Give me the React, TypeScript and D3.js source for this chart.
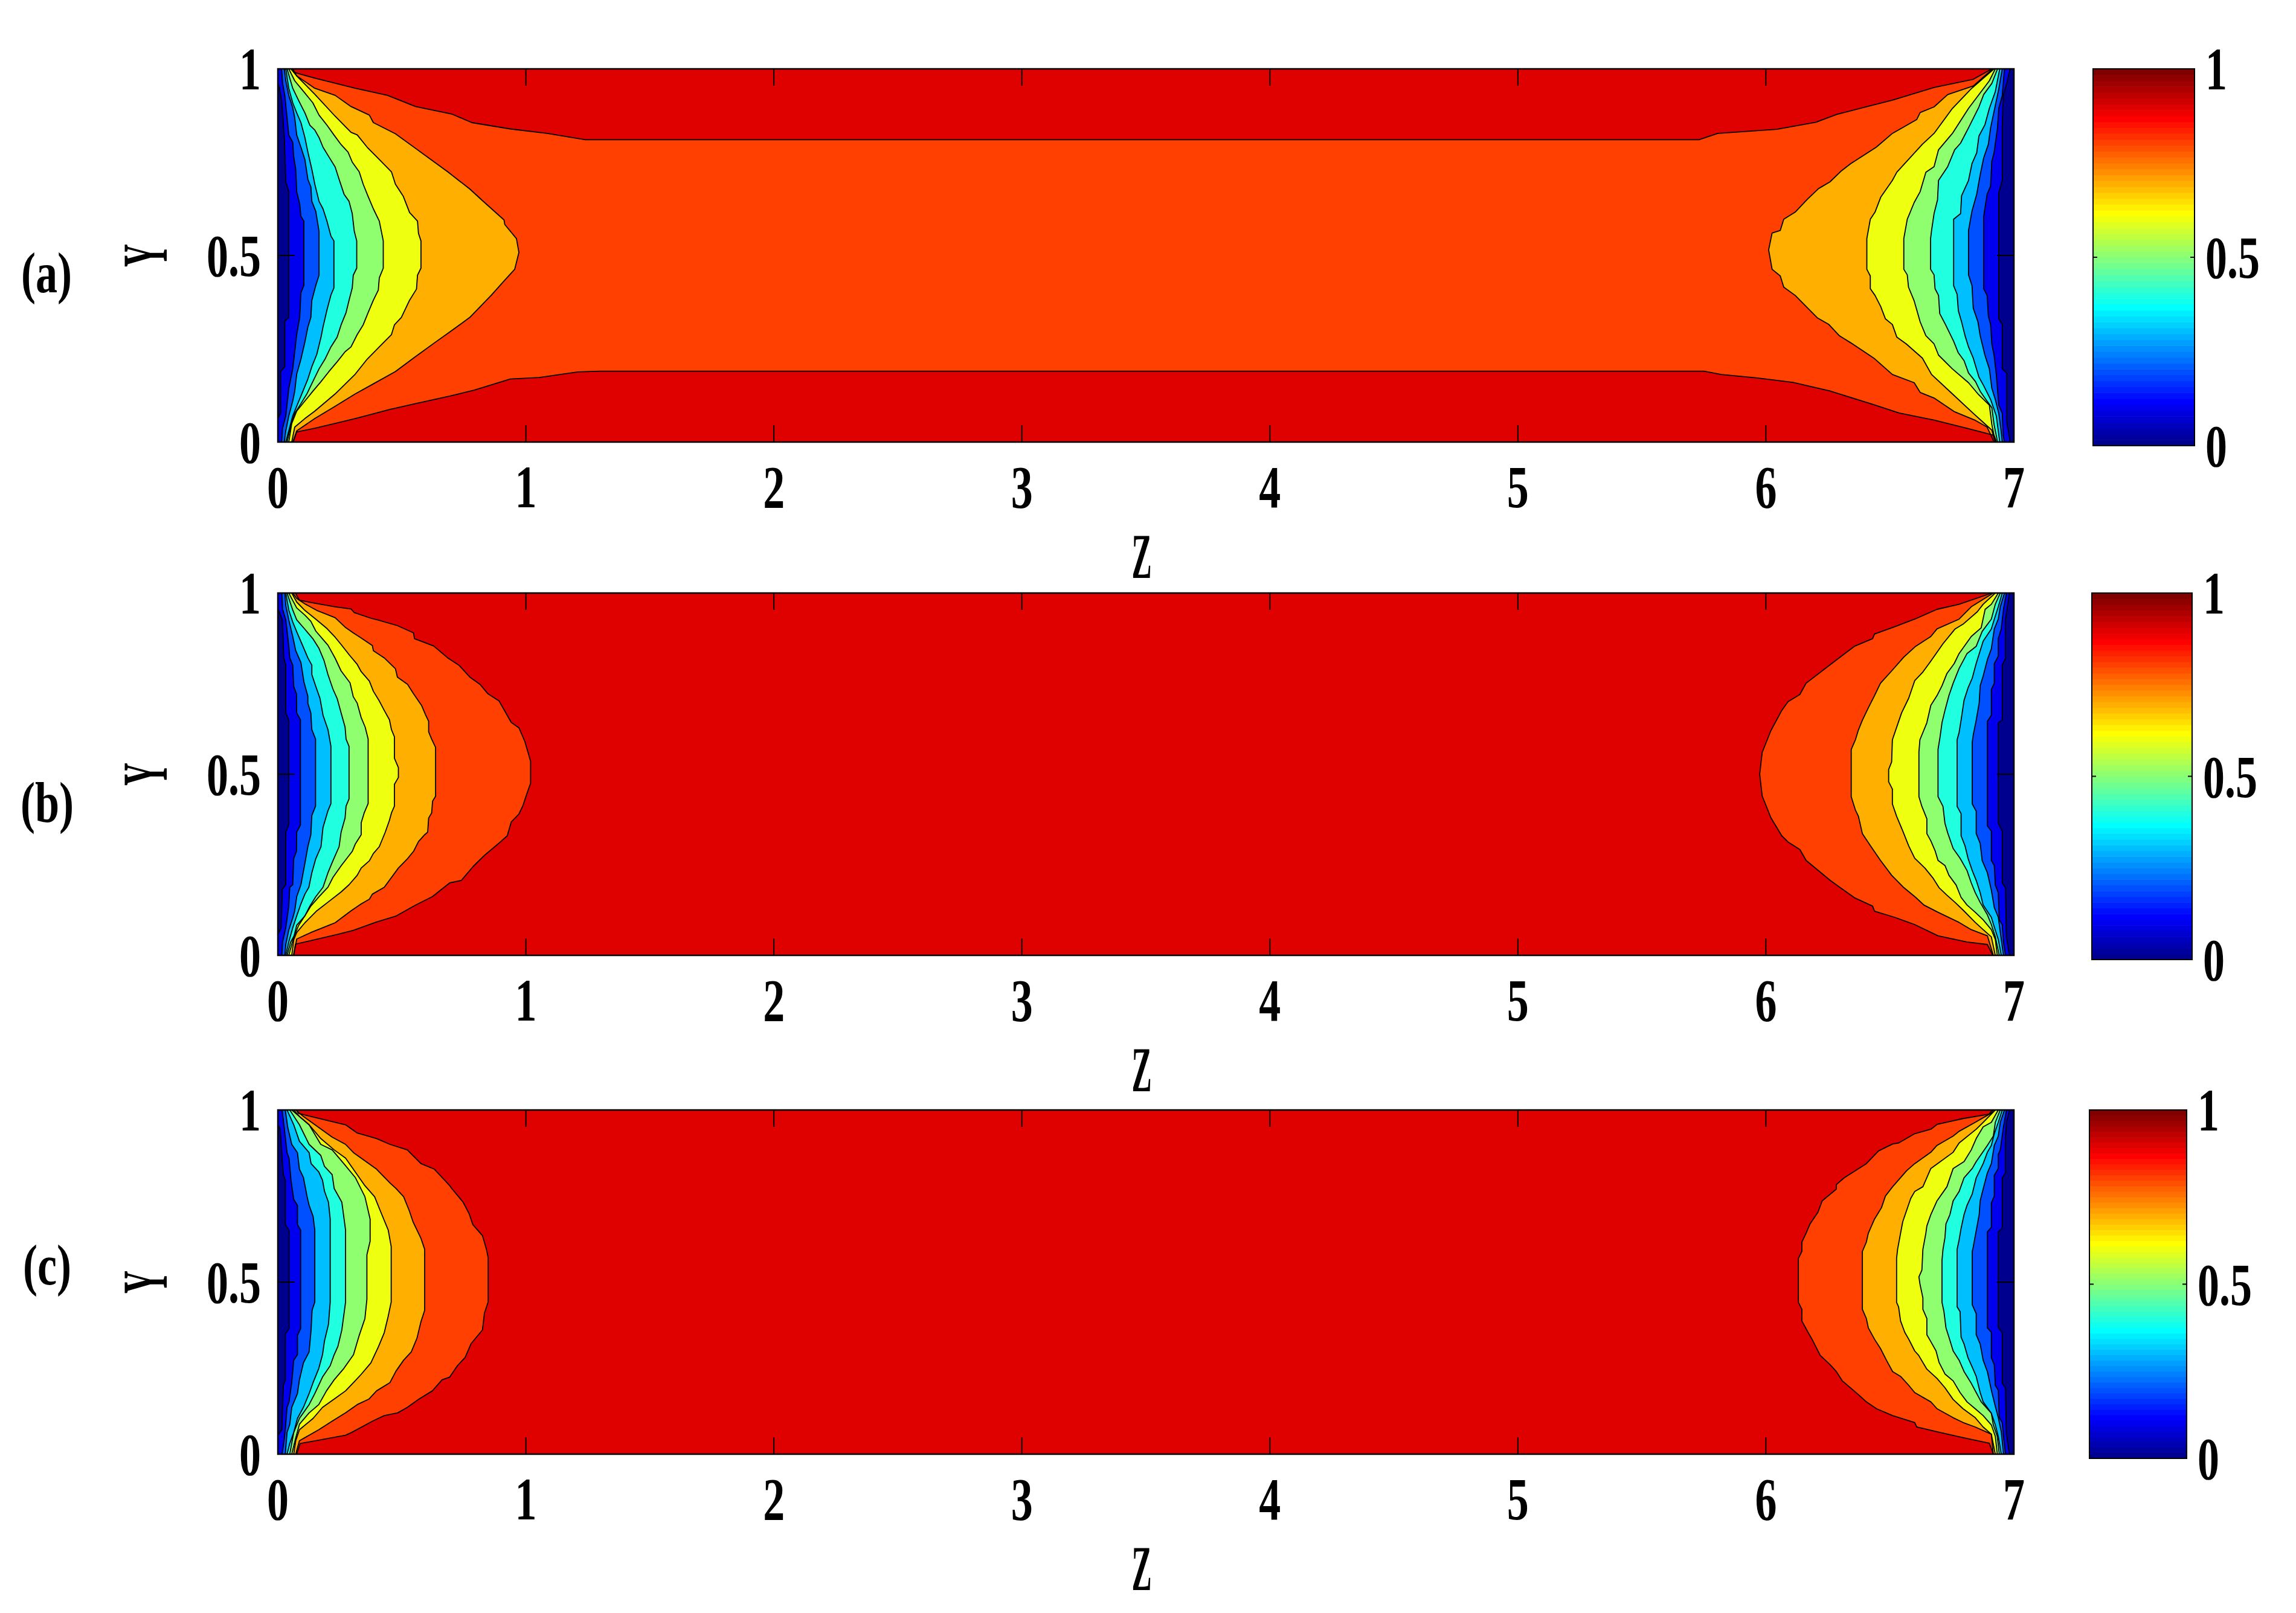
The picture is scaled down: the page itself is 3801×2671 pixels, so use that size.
import React from 'react';
import * as d3 from 'd3';

// ---------------- data ----------------
// contour levels of the filled contour plot
const LEVELS = [0, 0.1, 0.2, 0.3, 0.4, 0.5, 0.6, 0.7, 0.8, 0.9];
const X_TICKS = [0, 1, 2, 3, 4, 5, 6, 7];
const Y_TICKS = [0, 0.5, 1];
const CB_TICKS = [0, 0.5, 1];
const PANEL_LABELS = ['(a)', '(b)', '(c)'];
const X_LABEL = 'Z';
const Y_LABEL = 'Y';

type P = [number, number];

// Panel (a): contour lines [Z, Y], left wall side (levels 0.1 .. 0.8), listed top -> bottom
const aLeft: P[][] = [
  [[0,0.96],[0.007,0.948],[0.015,0.915],[0.019,0.882],[0.026,0.816],[0.032,0.697],[0.044,0.671],[0.044,0.334],[0.028,0.324],[0.028,0.202],[0.011,0.189],[0.011,0.077],[0,0.063]],
  [[0.015,1],[0.019,0.962],[0.028,0.929],[0.044,0.823],[0.06,0.803],[0.064,0.764],[0.072,0.731],[0.076,0.671],[0.088,0.638],[0.093,0.605],[0.105,0.592],[0.105,0.42],[0.093,0.4],[0.088,0.334],[0.076,0.288],[0.068,0.242],[0.06,0.196],[0.044,0.143],[0.032,0.07],[0.019,0.037],[0.015,0]],
  [[0.026,1],[0.032,0.968],[0.044,0.929],[0.06,0.896],[0.068,0.869],[0.076,0.823],[0.093,0.79],[0.109,0.757],[0.121,0.704],[0.133,0.684],[0.137,0.645],[0.153,0.618],[0.166,0.565],[0.166,0.447],[0.153,0.42],[0.137,0.38],[0.133,0.334],[0.121,0.308],[0.109,0.268],[0.093,0.222],[0.076,0.182],[0.068,0.136],[0.06,0.11],[0.044,0.07],[0.032,0.03],[0.026,0]],
  [[0.032,1],[0.044,0.948],[0.06,0.909],[0.076,0.882],[0.093,0.856],[0.109,0.816],[0.121,0.777],[0.137,0.731],[0.149,0.691],[0.166,0.645],[0.182,0.625],[0.198,0.592],[0.214,0.552],[0.226,0.539],[0.226,0.413],[0.214,0.394],[0.198,0.354],[0.182,0.308],[0.174,0.281],[0.157,0.235],[0.137,0.202],[0.121,0.169],[0.101,0.136],[0.076,0.096],[0.06,0.07],[0.044,0.03],[0.032,0]],
  [[0.037,1],[0.06,0.948],[0.084,0.915],[0.109,0.882],[0.129,0.849],[0.149,0.836],[0.166,0.816],[0.182,0.79],[0.206,0.764],[0.231,0.737],[0.247,0.704],[0.267,0.664],[0.287,0.645],[0.3,0.612],[0.308,0.565],[0.318,0.539],[0.318,0.466],[0.304,0.447],[0.3,0.413],[0.287,0.38],[0.275,0.347],[0.255,0.314],[0.239,0.281],[0.214,0.255],[0.19,0.222],[0.166,0.196],[0.141,0.162],[0.117,0.129],[0.093,0.103],[0.068,0.077],[0.052,0.044],[0.037,0]],
  [[0.044,1],[0.068,0.968],[0.109,0.935],[0.141,0.909],[0.166,0.876],[0.198,0.849],[0.226,0.823],[0.255,0.797],[0.283,0.777],[0.3,0.75],[0.328,0.724],[0.344,0.691],[0.364,0.658],[0.385,0.625],[0.409,0.592],[0.425,0.539],[0.425,0.466],[0.409,0.44],[0.405,0.407],[0.385,0.38],[0.364,0.347],[0.344,0.314],[0.32,0.288],[0.295,0.255],[0.271,0.242],[0.239,0.215],[0.206,0.189],[0.174,0.162],[0.141,0.136],[0.109,0.11],[0.076,0.083],[0.056,0.05],[0.044,0]],
  [[0.052,1],[0.076,0.981],[0.149,0.932],[0.231,0.873],[0.295,0.83],[0.32,0.823],[0.36,0.79],[0.409,0.757],[0.458,0.724],[0.474,0.691],[0.506,0.658],[0.531,0.615],[0.563,0.592],[0.567,0.559],[0.577,0.539],[0.577,0.466],[0.563,0.447],[0.559,0.41],[0.531,0.38],[0.498,0.334],[0.47,0.314],[0.458,0.288],[0.409,0.255],[0.36,0.222],[0.312,0.182],[0.231,0.129],[0.149,0.083],[0.109,0.063],[0.068,0.04],[0.056,0]],
  [[0.06,1],[0.076,0.981],[0.149,0.948],[0.231,0.929],[0.295,0.899],[0.369,0.876],[0.385,0.856],[0.474,0.826],[0.555,0.787],[0.685,0.724],[0.774,0.678],[0.823,0.648],[0.912,0.595],[0.915,0.583],[0.962,0.545],[0.972,0.508],[0.955,0.463],[0.915,0.434],[0.86,0.393],[0.774,0.334],[0.693,0.295],[0.636,0.268],[0.555,0.229],[0.474,0.189],[0.385,0.156],[0.312,0.129],[0.231,0.096],[0.149,0.063],[0.076,0.03],[0.06,0]],
];
// Panel (a): right wall side (levels 0.1 .. 0.8), top -> bottom
const aRight: P[][] = [
  [[6.985,1],[6.971,0.961],[6.957,0.928],[6.953,0.842],[6.953,0.701],[6.939,0.668],[6.939,0.33],[6.953,0.315],[6.953,0.196],[6.971,0.185],[6.971,0.055],[6.985,0]],
  [[6.962,1],[6.953,0.928],[6.939,0.894],[6.934,0.842],[6.92,0.775],[6.911,0.753],[6.906,0.686],[6.892,0.664],[6.878,0.604],[6.878,0.411],[6.892,0.393],[6.897,0.337],[6.906,0.315],[6.911,0.263],[6.92,0.233],[6.929,0.181],[6.939,0.099],[6.953,0.077],[6.957,0.018],[6.962,0]],
  [[6.953,1],[6.939,0.946],[6.925,0.902],[6.906,0.842],[6.897,0.798],[6.878,0.761],[6.864,0.716],[6.85,0.664],[6.831,0.619],[6.817,0.567],[6.817,0.448],[6.831,0.419],[6.836,0.359],[6.855,0.322],[6.864,0.285],[6.883,0.233],[6.901,0.196],[6.911,0.144],[6.925,0.114],[6.939,0.077],[6.948,0.032],[6.953,0]],
  [[6.943,1],[6.925,0.939],[6.901,0.894],[6.883,0.85],[6.859,0.82],[6.85,0.775],[6.831,0.746],[6.817,0.701],[6.789,0.66],[6.785,0.612],[6.757,0.597],[6.757,0.419],[6.771,0.396],[6.776,0.352],[6.789,0.322],[6.803,0.285],[6.817,0.255],[6.836,0.225],[6.859,0.174],[6.878,0.151],[6.906,0.114],[6.929,0.07],[6.943,0]],
  [[6.934,1],[6.911,0.961],[6.878,0.931],[6.859,0.898],[6.817,0.842],[6.785,0.801],[6.761,0.783],[6.733,0.738],[6.696,0.701],[6.692,0.649],[6.678,0.612],[6.668,0.567],[6.664,0.545],[6.664,0.463],[6.678,0.448],[6.682,0.411],[6.696,0.393],[6.701,0.344],[6.724,0.315],[6.757,0.27],[6.775,0.24],[6.799,0.218],[6.817,0.185],[6.845,0.162],[6.864,0.136],[6.887,0.114],[6.911,0.092],[6.92,0.047],[6.934,0]],
  [[6.925,1],[6.901,0.968],[6.817,0.894],[6.752,0.827],[6.696,0.783],[6.678,0.738],[6.645,0.723],[6.622,0.671],[6.598,0.642],[6.57,0.597],[6.556,0.545],[6.556,0.463],[6.57,0.448],[6.575,0.415],[6.598,0.378],[6.622,0.322],[6.645,0.285],[6.678,0.263],[6.696,0.233],[6.752,0.196],[6.817,0.159],[6.855,0.129],[6.901,0.099],[6.911,0.047],[6.925,0]],
  [[6.92,1],[6.827,0.946],[6.752,0.894],[6.678,0.827],[6.631,0.798],[6.528,0.723],[6.51,0.701],[6.463,0.656],[6.44,0.616],[6.421,0.597],[6.407,0.545],[6.407,0.463],[6.421,0.445],[6.421,0.411],[6.44,0.393],[6.463,0.363],[6.482,0.33],[6.51,0.315],[6.528,0.281],[6.566,0.263],[6.631,0.225],[6.668,0.181],[6.752,0.129],[6.836,0.077],[6.911,0.032],[6.925,0]],
  [[6.915,1],[6.836,0.954],[6.733,0.931],[6.678,0.898],[6.622,0.883],[6.608,0.864],[6.51,0.827],[6.445,0.79],[6.342,0.746],[6.305,0.727],[6.258,0.697],[6.212,0.679],[6.165,0.649],[6.118,0.616],[6.072,0.597],[6.058,0.567],[6.025,0.56],[6.011,0.515],[6.025,0.463],[6.058,0.445],[6.072,0.415],[6.118,0.393],[6.207,0.333],[6.254,0.315],[6.296,0.285],[6.342,0.266],[6.435,0.225],[6.51,0.181],[6.598,0.159],[6.622,0.133],[6.678,0.118],[6.761,0.081],[6.845,0.058],[6.892,0.04],[6.92,0]],
];
// Panel (a): level 0.9 contour, upper and lower branches (left -> right)
const aTop90: P[] = [[0.06,1],[0.064,0.991],[0.149,0.975],[0.312,0.948],[0.442,0.929],[0.555,0.899],[0.701,0.879],[0.782,0.856],[0.937,0.839],[1.086,0.827],[1.24,0.81],[5.73,0.81],[5.806,0.827],[6.044,0.838],[6.202,0.857],[6.286,0.878],[6.421,0.901],[6.51,0.916],[6.678,0.95],[6.836,0.972],[6.912,1]];
const aBottom90: P[] = [[0.06,0],[0.064,0.004],[0.076,0.027],[0.149,0.037],[0.231,0.05],[0.312,0.063],[0.393,0.077],[0.45,0.087],[0.555,0.103],[0.693,0.123],[0.791,0.139],[0.937,0.169],[1.054,0.173],[1.21,0.188],[1.3,0.19],[5.75,0.19],[5.82,0.181],[5.96,0.172],[6.108,0.16],[6.258,0.137],[6.435,0.1],[6.537,0.078],[6.678,0.059],[6.817,0.036],[6.92,0.018],[6.93,0]];

// Panel (b): left side (levels 0.1 .. 0.9), top -> bottom
const bLeft: P[][] = [
  [[0,0.956],[0.007,0.946],[0.018,0.926],[0.024,0.821],[0.032,0.801],[0.032,0.669],[0.044,0.65],[0.044,0.36],[0.032,0.34],[0.032,0.195],[0.018,0.182],[0.013,0.076],[0,0.057]],
  [[0.016,1],[0.019,0.956],[0.032,0.926],[0.044,0.854],[0.048,0.821],[0.06,0.801],[0.064,0.742],[0.075,0.722],[0.076,0.669],[0.091,0.65],[0.091,0.36],[0.076,0.34],[0.075,0.287],[0.064,0.267],[0.06,0.195],[0.048,0.188],[0.044,0.136],[0.032,0.076],[0.019,0.037],[0.016,0]],
  [[0.028,1],[0.032,0.966],[0.044,0.926],[0.06,0.88],[0.072,0.841],[0.093,0.808],[0.105,0.755],[0.121,0.715],[0.121,0.696],[0.133,0.669],[0.137,0.623],[0.152,0.597],[0.152,0.412],[0.137,0.386],[0.133,0.333],[0.121,0.3],[0.109,0.254],[0.093,0.195],[0.076,0.162],[0.068,0.123],[0.06,0.103],[0.044,0.07],[0.032,0.03],[0.028,0]],
  [[0.032,1],[0.044,0.953],[0.06,0.92],[0.076,0.893],[0.105,0.847],[0.121,0.821],[0.137,0.801],[0.137,0.775],[0.153,0.742],[0.17,0.709],[0.182,0.663],[0.202,0.623],[0.214,0.577],[0.214,0.419],[0.202,0.399],[0.182,0.353],[0.174,0.3],[0.153,0.267],[0.137,0.228],[0.125,0.188],[0.109,0.169],[0.093,0.142],[0.076,0.109],[0.06,0.076],[0.044,0.037],[0.032,0]],
  [[0.037,1],[0.06,0.953],[0.076,0.926],[0.109,0.9],[0.141,0.874],[0.166,0.847],[0.186,0.814],[0.202,0.775],[0.222,0.735],[0.239,0.709],[0.255,0.669],[0.271,0.63],[0.275,0.597],[0.287,0.577],[0.287,0.432],[0.275,0.412],[0.271,0.379],[0.255,0.34],[0.247,0.3],[0.222,0.261],[0.202,0.228],[0.182,0.188],[0.153,0.162],[0.129,0.136],[0.109,0.109],[0.084,0.083],[0.068,0.057],[0.052,0.037],[0.037,0]],
  [[0.044,1],[0.076,0.959],[0.109,0.939],[0.133,0.922],[0.153,0.895],[0.182,0.872],[0.202,0.856],[0.231,0.82],[0.255,0.785],[0.291,0.752],[0.304,0.714],[0.32,0.696],[0.336,0.656],[0.352,0.63],[0.364,0.597],[0.364,0.419],[0.348,0.393],[0.336,0.366],[0.336,0.333],[0.312,0.307],[0.3,0.287],[0.255,0.247],[0.222,0.215],[0.202,0.188],[0.166,0.162],[0.133,0.136],[0.109,0.109],[0.076,0.083],[0.064,0.05],[0.044,0]],
  [[0.056,1],[0.076,0.975],[0.109,0.952],[0.149,0.93],[0.198,0.902],[0.231,0.878],[0.255,0.858],[0.287,0.83],[0.32,0.803],[0.336,0.783],[0.369,0.757],[0.385,0.729],[0.409,0.702],[0.429,0.676],[0.45,0.65],[0.458,0.623],[0.47,0.603],[0.47,0.544],[0.486,0.518],[0.486,0.491],[0.47,0.472],[0.47,0.412],[0.458,0.393],[0.45,0.373],[0.433,0.34],[0.409,0.3],[0.385,0.281],[0.369,0.261],[0.336,0.241],[0.32,0.221],[0.287,0.195],[0.255,0.175],[0.206,0.149],[0.157,0.123],[0.109,0.09],[0.076,0.063],[0.064,0.043],[0.056,0]],
  [[0.06,1],[0.076,0.985],[0.109,0.97],[0.157,0.952],[0.231,0.932],[0.271,0.906],[0.304,0.89],[0.336,0.876],[0.381,0.855],[0.385,0.841],[0.429,0.821],[0.474,0.791],[0.482,0.768],[0.523,0.748],[0.547,0.722],[0.58,0.689],[0.596,0.663],[0.608,0.646],[0.608,0.617],[0.62,0.597],[0.636,0.574],[0.636,0.439],[0.624,0.426],[0.62,0.393],[0.608,0.379],[0.604,0.34],[0.592,0.333],[0.567,0.314],[0.547,0.287],[0.523,0.267],[0.486,0.241],[0.429,0.188],[0.381,0.169],[0.369,0.155],[0.336,0.142],[0.295,0.123],[0.231,0.09],[0.206,0.083],[0.133,0.063],[0.076,0.045],[0.064,0]],
  [[0.071,1],[0.087,0.98],[0.149,0.972],[0.231,0.962],[0.295,0.956],[0.308,0.946],[0.377,0.93],[0.401,0.926],[0.482,0.91],[0.547,0.89],[0.551,0.874],[0.628,0.854],[0.685,0.821],[0.73,0.801],[0.774,0.768],[0.815,0.748],[0.847,0.722],[0.892,0.702],[0.941,0.643],[0.972,0.628],[0.996,0.59],[1.019,0.536],[1.019,0.475],[1.003,0.444],[0.988,0.413],[0.972,0.39],[0.941,0.368],[0.925,0.33],[0.887,0.307],[0.833,0.276],[0.787,0.245],[0.74,0.207],[0.693,0.2],[0.623,0.162],[0.553,0.138],[0.475,0.108],[0.397,0.092],[0.304,0.069],[0.242,0.058],[0.071,0.031],[0.063,0]],
];
const bRight: P[][] = [
  [[6.982,1],[6.974,0.962],[6.966,0.928],[6.966,0.819],[6.953,0.802],[6.953,0.649],[6.937,0.642],[6.937,0.364],[6.953,0.343],[6.953,0.2],[6.966,0.187],[6.97,0.051],[6.982,0]],
  [[6.97,1],[6.958,0.955],[6.949,0.901],[6.937,0.874],[6.937,0.826],[6.921,0.805],[6.921,0.751],[6.909,0.734],[6.909,0.663],[6.893,0.646],[6.893,0.357],[6.909,0.343],[6.909,0.262],[6.921,0.248],[6.925,0.194],[6.937,0.173],[6.941,0.098],[6.953,0.085],[6.958,0.037],[6.966,0]],
  [[6.962,1],[6.945,0.962],[6.937,0.928],[6.921,0.901],[6.909,0.846],[6.893,0.816],[6.876,0.771],[6.864,0.744],[6.86,0.697],[6.848,0.649],[6.836,0.608],[6.832,0.588],[6.832,0.418],[6.848,0.398],[6.848,0.336],[6.864,0.309],[6.872,0.262],[6.893,0.228],[6.909,0.18],[6.921,0.132],[6.937,0.105],[6.945,0.064],[6.958,0]],
  [[6.953,1],[6.937,0.962],[6.921,0.928],[6.909,0.901],[6.876,0.867],[6.848,0.806],[6.832,0.765],[6.815,0.738],[6.799,0.704],[6.787,0.649],[6.779,0.615],[6.771,0.595],[6.771,0.411],[6.787,0.391],[6.787,0.33],[6.803,0.302],[6.815,0.268],[6.832,0.234],[6.848,0.207],[6.864,0.173],[6.876,0.139],[6.909,0.105],[6.921,0.078],[6.937,0.044],[6.949,0]],
  [[6.945,1],[6.925,0.969],[6.909,0.928],[6.872,0.894],[6.848,0.853],[6.811,0.833],[6.779,0.792],[6.755,0.751],[6.738,0.717],[6.722,0.676],[6.71,0.642],[6.702,0.602],[6.694,0.568],[6.694,0.438],[6.714,0.411],[6.722,0.364],[6.734,0.336],[6.755,0.295],[6.783,0.268],[6.811,0.234],[6.828,0.2],[6.844,0.173],[6.864,0.146],[6.893,0.112],[6.909,0.085],[6.925,0.051],[6.941,0]],
  [[6.937,1],[6.909,0.969],[6.884,0.955],[6.868,0.904],[6.828,0.88],[6.779,0.833],[6.759,0.805],[6.73,0.778],[6.71,0.744],[6.69,0.717],[6.665,0.69],[6.649,0.642],[6.633,0.615],[6.621,0.595],[6.617,0.561],[6.617,0.438],[6.629,0.411],[6.649,0.377],[6.649,0.336],[6.665,0.316],[6.682,0.289],[6.694,0.262],[6.722,0.248],[6.738,0.221],[6.767,0.194],[6.787,0.16],[6.811,0.139],[6.844,0.119],[6.876,0.098],[6.909,0.071],[6.925,0.044],[6.933,0]],
  [[6.925,1],[6.876,0.969],[6.852,0.948],[6.795,0.914],[6.763,0.901],[6.714,0.86],[6.665,0.812],[6.633,0.782],[6.6,0.758],[6.576,0.71],[6.547,0.669],[6.527,0.629],[6.51,0.595],[6.507,0.534],[6.495,0.513],[6.495,0.479],[6.51,0.459],[6.51,0.418],[6.527,0.384],[6.552,0.343],[6.576,0.302],[6.6,0.268],[6.641,0.241],[6.673,0.214],[6.698,0.187],[6.73,0.166],[6.763,0.146],[6.795,0.125],[6.844,0.091],[6.876,0.071],[6.909,0.051],[6.925,0]],
  [[6.917,1],[6.828,0.962],[6.779,0.928],[6.69,0.901],[6.665,0.88],[6.604,0.853],[6.556,0.823],[6.507,0.785],[6.462,0.751],[6.438,0.717],[6.413,0.683],[6.389,0.649],[6.373,0.622],[6.361,0.595],[6.344,0.568],[6.344,0.438],[6.361,0.401],[6.373,0.384],[6.389,0.336],[6.422,0.302],[6.462,0.262],[6.507,0.221],[6.556,0.187],[6.604,0.16],[6.637,0.139],[6.694,0.119],[6.779,0.091],[6.828,0.071],[6.893,0.054],[6.917,0]],
  [[6.912,1],[6.779,0.969],[6.69,0.955],[6.6,0.928],[6.519,0.907],[6.438,0.887],[6.43,0.874],[6.357,0.853],[6.259,0.802],[6.162,0.751],[6.137,0.72],[6.089,0.7],[6.064,0.676],[6.02,0.62],[5.985,0.56],[5.975,0.5],[5.985,0.44],[6.02,0.38],[6.064,0.33],[6.089,0.313],[6.137,0.292],[6.162,0.262],[6.259,0.207],[6.357,0.159],[6.43,0.136],[6.438,0.122],[6.519,0.105],[6.6,0.085],[6.694,0.054],[6.811,0.037],[6.893,0.03],[6.915,0]],
];

// Panel (c)
const cLeft: P[][] = [
  [[0,0.957],[0.009,0.945],[0.022,0.812],[0.03,0.796],[0.03,0.667],[0.045,0.651],[0.045,0.365],[0.03,0.349],[0.03,0.216],[0.022,0.2],[0.016,0.071],[0,0.055]],
  [[0.017,1],[0.025,0.953],[0.037,0.876],[0.045,0.86],[0.053,0.796],[0.064,0.74],[0.079,0.723],[0.079,0.667],[0.092,0.651],[0.092,0.365],[0.079,0.345],[0.079,0.289],[0.064,0.273],[0.056,0.208],[0.045,0.152],[0.037,0.136],[0.03,0.071],[0.025,0.039],[0.017,0]],
  [[0.03,1],[0.04,0.949],[0.056,0.9],[0.079,0.876],[0.087,0.828],[0.103,0.804],[0.118,0.748],[0.126,0.723],[0.142,0.691],[0.149,0.651],[0.149,0.442],[0.138,0.418],[0.134,0.361],[0.126,0.297],[0.103,0.265],[0.087,0.216],[0.079,0.176],[0.056,0.136],[0.048,0.087],[0.037,0.063],[0.03,0]],
  [[0.037,1],[0.064,0.957],[0.087,0.909],[0.126,0.876],[0.134,0.844],[0.165,0.82],[0.18,0.796],[0.188,0.764],[0.204,0.732],[0.211,0.683],[0.211,0.442],[0.204,0.377],[0.188,0.329],[0.18,0.289],[0.165,0.249],[0.142,0.208],[0.126,0.176],[0.103,0.136],[0.079,0.104],[0.064,0.063],[0.048,0.031],[0.037,0]],
  [[0.048,1],[0.087,0.957],[0.126,0.9],[0.173,0.868],[0.188,0.836],[0.219,0.812],[0.227,0.772],[0.258,0.732],[0.273,0.651],[0.273,0.442],[0.258,0.361],[0.242,0.313],[0.227,0.289],[0.211,0.257],[0.18,0.224],[0.149,0.176],[0.126,0.144],[0.087,0.104],[0.064,0.063],[0.048,0]],
  [[0.056,1],[0.126,0.957],[0.173,0.9],[0.219,0.884],[0.266,0.844],[0.312,0.804],[0.351,0.748],[0.372,0.683],[0.372,0.619],[0.359,0.579],[0.359,0.45],[0.351,0.394],[0.328,0.345],[0.305,0.289],[0.266,0.249],[0.227,0.216],[0.196,0.184],[0.165,0.144],[0.126,0.12],[0.087,0.087],[0.072,0.047],[0.056,0]],
  [[0.064,1],[0.087,0.981],[0.126,0.957],[0.173,0.917],[0.227,0.884],[0.273,0.86],[0.32,0.812],[0.351,0.78],[0.39,0.748],[0.413,0.707],[0.445,0.651],[0.457,0.603],[0.457,0.442],[0.445,0.401],[0.429,0.353],[0.406,0.313],[0.375,0.265],[0.336,0.232],[0.305,0.208],[0.273,0.184],[0.227,0.16],[0.18,0.136],[0.142,0.104],[0.087,0.071],[0.072,0.039],[0.064,0]],
  [[0.072,1],[0.103,0.981],[0.219,0.921],[0.273,0.9],[0.305,0.876],[0.398,0.828],[0.452,0.788],[0.476,0.772],[0.507,0.748],[0.53,0.707],[0.545,0.675],[0.577,0.627],[0.592,0.595],[0.592,0.418],[0.577,0.385],[0.561,0.337],[0.538,0.297],[0.507,0.273],[0.476,0.241],[0.452,0.208],[0.398,0.184],[0.367,0.16],[0.32,0.144],[0.273,0.12],[0.219,0.096],[0.165,0.071],[0.087,0.039],[0.072,0]],
  [[0.076,1],[0.082,0.99],[0.134,0.981],[0.273,0.957],[0.32,0.933],[0.398,0.917],[0.452,0.9],[0.522,0.884],[0.577,0.844],[0.631,0.828],[0.662,0.804],[0.693,0.78],[0.701,0.772],[0.747,0.732],[0.771,0.699],[0.786,0.667],[0.825,0.635],[0.841,0.595],[0.848,0.571],[0.848,0.442],[0.833,0.41],[0.825,0.361],[0.779,0.321],[0.755,0.281],[0.724,0.257],[0.693,0.224],[0.662,0.216],[0.623,0.184],[0.569,0.16],[0.522,0.136],[0.483,0.12],[0.429,0.112],[0.382,0.096],[0.297,0.063],[0.273,0.055],[0.09,0.031],[0.076,0]],
];
const cRight: P[][] = [
  [[6.982,1],[6.97,0.964],[6.966,0.924],[6.966,0.817],[6.953,0.803],[6.953,0.656],[6.937,0.646],[6.937,0.367],[6.953,0.354],[6.953,0.206],[6.966,0.193],[6.97,0.058],[6.982,0]],
  [[6.97,1],[6.958,0.951],[6.945,0.884],[6.937,0.871],[6.937,0.83],[6.921,0.81],[6.921,0.75],[6.909,0.73],[6.909,0.659],[6.893,0.646],[6.893,0.367],[6.909,0.354],[6.909,0.28],[6.921,0.26],[6.925,0.2],[6.937,0.186],[6.941,0.106],[6.953,0.092],[6.958,0.052],[6.966,0]],
  [[6.962,1],[6.945,0.964],[6.937,0.924],[6.921,0.897],[6.909,0.844],[6.893,0.817],[6.876,0.77],[6.864,0.736],[6.86,0.696],[6.848,0.649],[6.836,0.602],[6.832,0.589],[6.832,0.434],[6.848,0.408],[6.848,0.347],[6.864,0.32],[6.876,0.273],[6.893,0.24],[6.909,0.186],[6.925,0.139],[6.937,0.106],[6.949,0.065],[6.958,0]],
  [[6.953,1],[6.937,0.964],[6.921,0.931],[6.909,0.897],[6.893,0.877],[6.876,0.844],[6.848,0.803],[6.832,0.756],[6.811,0.723],[6.799,0.696],[6.787,0.656],[6.779,0.622],[6.771,0.595],[6.771,0.428],[6.783,0.414],[6.787,0.34],[6.799,0.32],[6.815,0.28],[6.832,0.253],[6.848,0.226],[6.864,0.179],[6.876,0.152],[6.909,0.119],[6.925,0.085],[6.937,0.052],[6.949,0]],
  [[6.945,1],[6.925,0.964],[6.917,0.924],[6.893,0.897],[6.848,0.85],[6.832,0.83],[6.799,0.803],[6.779,0.763],[6.755,0.736],[6.742,0.696],[6.726,0.669],[6.722,0.629],[6.714,0.595],[6.71,0.562],[6.71,0.441],[6.718,0.414],[6.726,0.367],[6.738,0.34],[6.755,0.3],[6.779,0.273],[6.799,0.24],[6.828,0.206],[6.848,0.179],[6.868,0.152],[6.909,0.119],[6.917,0.085],[6.933,0.052],[6.941,0]],
  [[6.937,1],[6.909,0.964],[6.876,0.951],[6.848,0.917],[6.828,0.884],[6.799,0.85],[6.755,0.83],[6.73,0.777],[6.69,0.736],[6.665,0.696],[6.649,0.663],[6.645,0.642],[6.633,0.595],[6.629,0.535],[6.617,0.515],[6.621,0.495],[6.633,0.454],[6.633,0.421],[6.649,0.394],[6.649,0.347],[6.665,0.327],[6.686,0.3],[6.698,0.267],[6.722,0.233],[6.755,0.213],[6.783,0.179],[6.811,0.152],[6.844,0.132],[6.876,0.112],[6.909,0.085],[6.925,0.052],[6.933,0]],
  [[6.925,1],[6.876,0.964],[6.848,0.944],[6.779,0.904],[6.755,0.877],[6.665,0.83],[6.633,0.777],[6.6,0.763],[6.584,0.743],[6.552,0.676],[6.543,0.642],[6.531,0.595],[6.527,0.569],[6.527,0.441],[6.535,0.428],[6.543,0.387],[6.56,0.354],[6.576,0.334],[6.6,0.3],[6.616,0.287],[6.649,0.247],[6.69,0.22],[6.722,0.193],[6.755,0.159],[6.795,0.132],[6.844,0.106],[6.876,0.079],[6.909,0.058],[6.925,0]],
  [[6.917,1],[6.909,0.991],[6.844,0.964],[6.779,0.938],[6.755,0.924],[6.69,0.897],[6.665,0.877],[6.6,0.844],[6.568,0.824],[6.511,0.777],[6.482,0.75],[6.466,0.716],[6.438,0.683],[6.413,0.642],[6.405,0.616],[6.389,0.589],[6.389,0.421],[6.405,0.394],[6.413,0.367],[6.438,0.334],[6.462,0.307],[6.486,0.273],[6.511,0.24],[6.543,0.226],[6.576,0.2],[6.6,0.179],[6.665,0.152],[6.69,0.132],[6.755,0.106],[6.795,0.092],[6.844,0.079],[6.909,0.058],[6.917,0]],
  [[6.911,1],[6.901,0.988],[6.795,0.975],[6.69,0.958],[6.665,0.944],[6.6,0.931],[6.535,0.904],[6.511,0.901],[6.454,0.881],[6.405,0.844],[6.316,0.803],[6.284,0.783],[6.284,0.77],[6.227,0.736],[6.21,0.703],[6.178,0.669],[6.162,0.642],[6.145,0.616],[6.145,0.589],[6.131,0.569],[6.131,0.441],[6.145,0.421],[6.145,0.387],[6.17,0.354],[6.186,0.334],[6.219,0.287],[6.259,0.26],[6.284,0.24],[6.308,0.213],[6.373,0.173],[6.405,0.152],[6.446,0.132],[6.511,0.112],[6.6,0.092],[6.608,0.079],[6.69,0.065],[6.795,0.048],[6.901,0.032],[6.917,0]],
];

// ---------------- layout (pixels) ----------------
const W = 3801;
const H = 2671;
const FRAMES = [
  { x0: 460, x1: 3334, y0: 114, y1: 732, cb: { x0: 3465, x1: 3633, y0: 114, y1: 738 }, lab: { x: 77, y: 484 } },
  { x0: 460, x1: 3334, y0: 982, y1: 1582, cb: { x0: 3463, x1: 3629, y0: 982, y1: 1589 }, lab: { x: 78, y: 1361 } },
  { x0: 460, x1: 3334, y0: 1838, y1: 2408, cb: { x0: 3459, x1: 3620, y0: 1838, y1: 2415 }, lab: { x: 78, y: 2127 } },
];
const FONT = "'Liberation Serif', 'Times New Roman', serif";
const TICK = 28;

// MATLAB jet colormap
function jet(m: number): string[] {
  const n = Math.ceil(m / 4);
  const u: number[] = [];
  for (let i = 1; i <= n; i++) u.push(i / n);
  for (let i = 1; i < n; i++) u.push(1);
  for (let i = n; i >= 1; i--) u.push(i / n);
  const g0 = Math.ceil(n / 2) - (m % 4 === 1 ? 1 : 0);
  const R = new Array(m).fill(0), G = new Array(m).fill(0), B = new Array(m).fill(0);
  for (let k = 0; k < u.length; k++) {
    const g = g0 + k + 1;
    const r = g + n;
    const b = g - n;
    if (g >= 1 && g <= m) G[g - 1] = u[k];
    if (r >= 1 && r <= m) R[r - 1] = u[k];
    if (b >= 1 && b <= m) B[b - 1] = u[k];
  }
  return R.map((_, i) => d3.rgb(R[i] * 255, G[i] * 255, B[i] * 255).formatHex());
}
const JET = jet(64);
const levelColor = (v: number) => JET[Math.min(63, Math.max(0, Math.floor(v * 64 + 1e-9)))];

type Frame = typeof FRAMES[number];

function Panel({ f, idx, left, right, extraTop, extraBottom }: {
  f: Frame; idx: number; left: P[][]; right: P[][]; extraTop?: P[]; extraBottom?: P[];
}) {
  const xs = d3.scaleLinear().domain([0, 7]).range([f.x0, f.x1]);
  const ys = d3.scaleLinear().domain([0, 1]).range([f.y1, f.y0]);
  const line = d3.line<P>().x(d => xs(d[0])).y(d => ys(d[1]));
  const clipId = `clip${idx}`;

  const regions: { d: string; fill: string }[] = [];
  for (let k = 0; k < left.length; k++) {
    const lv = LEVELS[k + 1];
    const poly: P[] = [[0, 1], ...left[k], [0, 0], ...right[k].slice().reverse()];
    regions.push({ d: line(poly) + 'Z', fill: levelColor(lv) });
  }
  if (extraTop && extraBottom) {
    const lv = LEVELS[9];
    regions.push({ d: line(extraTop) + 'Z', fill: levelColor(lv) });
    regions.push({ d: line(extraBottom) + 'Z', fill: levelColor(lv) });
  }
  const lines: P[][] = [...left, ...right];
  if (extraTop) lines.push(extraTop);
  if (extraBottom) lines.push(extraBottom);

  const cb = f.cb;
  const cbs = d3.scaleLinear().domain([0, 1]).range([cb.y1, cb.y0]);
  const midY = (f.y0 + f.y1) / 2;

  return (
    <g>
      <defs>
        <clipPath id={clipId}>
          <rect x={f.x0} y={f.y0} width={f.x1 - f.x0} height={f.y1 - f.y0} />
        </clipPath>
      </defs>
      <g clipPath={`url(#${clipId})`}>
        <rect x={f.x0} y={f.y0} width={f.x1 - f.x0} height={f.y1 - f.y0} fill={levelColor(LEVELS[0])} />
        {regions.map((r, i) => <path key={i} d={r.d} fill={r.fill} stroke="none" />)}
        {lines.map((l, i) => <path key={'l' + i} d={line(l) || ''} fill="none" stroke="#000" strokeWidth={1.8} strokeLinejoin="round" />)}
      </g>
      {/* ticks */}
      {X_TICKS.map(t => (
        <g key={'xt' + t}>
          <line x1={xs(t)} x2={xs(t)} y1={f.y1} y2={f.y1 - TICK} stroke="#000" strokeWidth={2} />
          <line x1={xs(t)} x2={xs(t)} y1={f.y0} y2={f.y0 + TICK} stroke="#000" strokeWidth={2} />
          <text transform={`translate(${xs(t)},${f.y1 + 108}) scale(0.72,1)`} textAnchor="middle"
            fontFamily={FONT} fontWeight="bold" fontSize={100}>{t}</text>
        </g>
      ))}
      {Y_TICKS.map(t => (
        <g key={'yt' + t}>
          <line x1={f.x0} x2={f.x0 + TICK} y1={ys(t)} y2={ys(t)} stroke="#000" strokeWidth={2} />
          <line x1={f.x1} x2={f.x1 - TICK} y1={ys(t)} y2={ys(t)} stroke="#000" strokeWidth={2} />
          <text transform={`translate(${f.x0 - 28},${ys(t) + 34}) scale(0.72,1)`} textAnchor="end"
            fontFamily={FONT} fontWeight="bold" fontSize={100}>{t}</text>
        </g>
      ))}
      <rect x={f.x0} y={f.y0} width={f.x1 - f.x0} height={f.y1 - f.y0} fill="none" stroke="#000" strokeWidth={2.5} />
      {/* axis labels */}
      <text transform={`translate(${(f.x0 + f.x1) / 2 - 7},${f.y1 + 225}) scale(0.47,1)`} textAnchor="middle"
        fontFamily={FONT} fontWeight="bold" fontSize={106}>{X_LABEL}</text>
      <text transform={`translate(240,${midY}) rotate(-90) scale(0.5,1)`} y={36} textAnchor="middle"
        fontFamily={FONT} fontWeight="bold" fontSize={106}>{Y_LABEL}</text>
      <text transform={`translate(${f.lab.x},${f.lab.y}) scale(0.76,1)`} textAnchor="middle"
        fontFamily={FONT} fontWeight="bold" fontSize={95}>{PANEL_LABELS[idx]}</text>
      {/* colorbar */}
      {JET.map((c, i) => (
        <rect key={'cb' + i} x={cb.x0} width={cb.x1 - cb.x0}
          y={cbs((i + 1) / 64)} height={cbs(i / 64) - cbs((i + 1) / 64) + 0.6} fill={c} />
      ))}
      <rect x={cb.x0} y={cb.y0} width={cb.x1 - cb.x0} height={cb.y1 - cb.y0} fill="none" stroke="#000" strokeWidth={2} />
      {CB_TICKS.map(t => (
        <g key={'cbt' + t}>
          <line x1={cb.x0} x2={cb.x0 + 7} y1={cbs(t)} y2={cbs(t)} stroke="#000" strokeWidth={2} />
          <line x1={cb.x1} x2={cb.x1 - 7} y1={cbs(t)} y2={cbs(t)} stroke="#000" strokeWidth={2} />
          <text transform={`translate(${cb.x1 + 18},${cbs(t) + 34}) scale(0.72,1)`} textAnchor="start"
            fontFamily={FONT} fontWeight="bold" fontSize={100}>{t}</text>
        </g>
      ))}
    </g>
  );
}

export default function App() {
  return (
    <svg width={W} height={H} viewBox={`0 0 ${W} ${H}`} xmlns="http://www.w3.org/2000/svg"
      style={{ position: 'absolute', left: 0, top: 0, background: '#fff' }}>
      <rect x={0} y={0} width={W} height={H} fill="#fff" />
      <Panel f={FRAMES[0]} idx={0} left={aLeft} right={aRight} extraTop={aTop90} extraBottom={aBottom90} />
      <Panel f={FRAMES[1]} idx={1} left={bLeft} right={bRight} />
      <Panel f={FRAMES[2]} idx={2} left={cLeft} right={cRight} />
    </svg>
  );
}
